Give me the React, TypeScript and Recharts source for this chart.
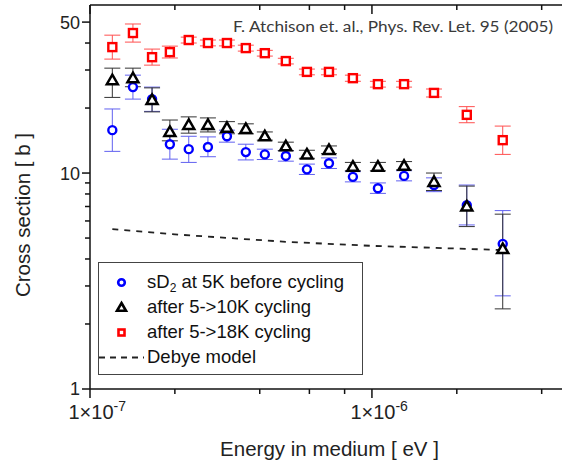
import React from 'react';
import { ComposedChart, Scatter, Line, XAxis, YAxis, ErrorBar, Legend, Label } from 'recharts';

// ---- data ----
const energies = [1.2e-7, 1.42e-7, 1.66e-7, 1.92e-7, 2.24e-7, 2.62e-7, 3.06e-7, 3.57e-7, 4.17e-7, 4.95e-7, 5.88e-7, 7.04e-7, 8.56e-7, 1.05e-6, 1.3e-6, 1.66e-6, 2.17e-6, 2.91e-6];

const sigmaBefore = [15.8, 25.0, 22.0, 13.6, 12.9, 13.2, 14.8, 12.5, 12.2, 12.0, 10.4, 11.1, 9.6, 8.5, 9.7, 8.8, 7.1, 4.7];
const errBeforeLow = [3.2, 3.0, 2.7, 2.0, 1.7, 1.3, 0.9, 1.0, 0.65, 0.65, 0.55, 0.6, 0.5, 0.45, 0.5, 0.6, 1.35, 2.0];
const errBeforeHigh = [4.0, 3.4, 3.0, 2.35, 1.9, 1.5, 1.0, 1.1, 0.7, 0.7, 0.6, 0.65, 0.55, 0.5, 0.55, 0.7, 1.7, 2.0];

const sigma10K = [26.9, 27.5, 21.8, 15.5, 16.7, 16.7, 16.2, 16.0, 14.8, 13.3, 12.2, 12.8, 10.7, 10.7, 10.8, 9.1, 7.0, 4.45];
const err10KLow = [4.5, 2.4, 2.6, 1.4, 1.4, 1.2, 1.0, 0.8, 0.6, 0.6, 0.5, 0.5, 0.45, 0.45, 0.45, 0.8, 1.35, 2.1];
const err10KHigh = [3.7, 3.1, 3.0, 2.1, 1.5, 1.3, 1.1, 0.9, 0.7, 0.6, 0.55, 0.55, 0.5, 0.5, 0.5, 0.9, 1.7, 2.0];

const sigma18K = [38.3, 44.5, 34.4, 36.3, 41.3, 40.0, 40.0, 37.9, 35.9, 33.0, 29.4, 29.4, 27.5, 25.8, 25.8, 23.5, 18.6, 14.2];
const err18KLow = [4.6, 4.1, 2.8, 2.2, 1.3, 1.2, 1.2, 1.2, 1.1, 1.0, 0.9, 0.9, 0.9, 0.8, 0.8, 1.0, 1.5, 2.0];
const err18KHigh = [5.2, 4.5, 3.1, 2.4, 1.3, 1.3, 1.3, 1.2, 1.1, 1.0, 0.9, 0.9, 0.9, 0.8, 0.8, 1.0, 1.7, 2.3];

const debyeEnergy = [1.2e-7, 2e-7, 3.5e-7, 5e-7, 1e-6, 2e-6, 2.9e-6];
const debyeSigma = [5.5, 5.2, 4.95, 4.8, 4.6, 4.47, 4.4];

const xTicks = [1e-7, 2e-7, 4e-7, 6e-7, 8e-7, 1e-6, 2e-6, 4e-6];
const xLabelTicks = [1e-7, 1e-6];
const xLabelExponents = ['-7', '-6'];
const yTicks = [1, 2, 3, 4, 5, 6, 7, 8, 9, 10, 20, 30, 40, 50];
const yLabelTicks = [1, 10, 50];

const seriesNames = ['sD2 at 5K before cycling', 'after 5->10K cycling', 'after 5->18K cycling', 'Debye model'];
const annotation = 'F. Atchison et. al., Phys. Rev. Let. 95 (2005)';
const xTitle = 'Energy in medium [ eV ]';
const yTitle = 'Cross section [ b ]';

// ---- build tables ----
const mk = (ys: number[], lo: number[], hi: number[]) =>
  energies.map((x, i) => ({ x, y: ys[i], err: [lo[i], hi[i]] }));
const dataBefore = mk(sigmaBefore, errBeforeLow, errBeforeHigh);
const data10K = mk(sigma10K, err10KLow, err10KHigh);
const data18K = mk(sigma18K, err18KLow, err18KHigh);
const debyeData = debyeEnergy.map((x, i) => ({ x, y: debyeSigma[i] }));

const FONT = '"Liberation Sans", Arial, Helvetica, sans-serif';
const AXIS = '#111';
const BLUE = '#0000ff';
const RED = '#ff0000';

// ---- shapes ----
const CircleShape = (p: any) => (
  <circle cx={p.cx} cy={p.cy} r={4} fill="#fff" stroke={BLUE} strokeWidth={2.4} />
);
const TriangleShape = (p: any) => (
  <path
    d={`M${p.cx},${p.cy - 5.5}L${p.cx + 5.5},${p.cy + 4}L${p.cx - 5.5},${p.cy + 4}Z`}
    fill="#fff"
    stroke="#000"
    strokeWidth={2.5}
  />
);
const SquareShape = (p: any) => (
  <rect x={p.cx - 4} y={p.cy - 4} width={8} height={8} fill="#fff" stroke={RED} strokeWidth={2.4} />
);

// ---- ticks ----
const renderYTick = (props: any) => {
  const { x, y, payload } = props;
  const v = payload.value;
  const major = yLabelTicks.includes(v);
  const len = major ? 8 : 5;
  return (
    <g>
      <line x1={x} x2={x - len} y1={y} y2={y} stroke={AXIS} strokeWidth={1.5} />
      {major && (
        <text x={x - len - 2} y={y} dy="0.36em" textAnchor="end" fontSize={18} fontFamily={FONT} fill="#222">
          {v}
        </text>
      )}
    </g>
  );
};

const renderXTickBottom = (props: any) => {
  const { x, y, payload } = props;
  const idx = xLabelTicks.indexOf(payload.value);
  const len = idx >= 0 ? 9 : 5;
  return (
    <g>
      <line x1={x} x2={x} y1={y} y2={y + len} stroke={AXIS} strokeWidth={1.5} />
      {idx >= 0 && (
        <g fontFamily={FONT} fill="#222">
          <text x={x + 1} y={y + 30} textAnchor="middle" fontSize={20}>
            1×10
          </text>
          <text x={x + 23.5} y={y + 22} textAnchor="start" fontSize={14}>
            {xLabelExponents[idx]}
          </text>
        </g>
      )}
    </g>
  );
};

const renderXTickTop = (props: any) => {
  const { x, y, payload } = props;
  const major = xLabelTicks.includes(payload.value);
  const len = major ? 9 : 5;
  return <line x1={x} x2={x} y1={y} y2={y + len} stroke={AXIS} strokeWidth={1.5} />;
};

// ---- axis titles ----
const renderYTitle = (props: any) => {
  const vb = props.viewBox || { x: 0, y: 5, width: 90, height: 384 };
  const cx = vb.x + 30;
  const cy = vb.y + vb.height / 2 + 18;
  return (
    <text transform={`translate(${cx},${cy}) rotate(-90)`} x={0} y={0} textAnchor="middle" fontSize={20.5} fontFamily={FONT} fill="#222">
      {yTitle}
    </text>
  );
};

const renderXTitle = (props: any) => {
  const vb = props.viewBox || { x: 90, y: 389, width: 479, height: 72 };
  return (
    <text x={vb.x + vb.width / 2} y={vb.y + 67} textAnchor="middle" fontSize={20.5} fontFamily={FONT} fill="#222">
      {xTitle}
    </text>
  );
};

// ---- legend ----
const legendIcon = (i: number) => {
  const cx = 22.5;
  const cy = 12.5;
  if (i === 0) return <circle cx={cx} cy={cy} r={3.3} fill="#fff" stroke={BLUE} strokeWidth={2.6} />;
  if (i === 1)
    return (
      <path d={`M${cx},${cy - 4.5}L${cx + 4.5},${cy + 3.3}L${cx - 4.5},${cy + 3.3}Z`} fill="#fff" stroke="#000" strokeWidth={2.6} />
    );
  if (i === 2) return <rect x={cx - 3} y={cy - 3} width={6} height={6} fill="#fff" stroke={RED} strokeWidth={2.6} />;
  return <line x1={0} x2={45} y1={cy} y2={cy} stroke="#222" strokeWidth={1.8} strokeDasharray="6 5" />;
};

const renderLegendLabel = (name: string) => {
  if (name.startsWith('sD2')) {
    return (
      <span>
        sD<sub style={{ fontSize: 12, verticalAlign: -4, lineHeight: 0 }}>2</sub>
        {name.slice(3)}
      </span>
    );
  }
  return <span>{name}</span>;
};

const renderLegend = () => (
  <div
    style={{
      boxSizing: 'border-box',
      width: 265,
      height: 113,
      border: '1.5px solid #444',
      background: '#fff',
      paddingTop: 6.5,
      fontFamily: FONT,
      fontSize: 18.5,
      color: '#111',
    }}
  >
    {seriesNames.map((n, i) => (
      <div key={n} style={{ display: 'flex', alignItems: 'center', height: 25, whiteSpace: 'nowrap' }}>
        <svg width={48} height={25} style={{ flex: 'none' }}>
          {legendIcon(i)}
        </svg>
        {renderLegendLabel(n)}
      </div>
    ))}
  </div>
);

export default function App() {
  return (
    <div style={{ position: 'fixed', left: 0, top: 0, width: 562, height: 461, overflow: 'hidden', background: '#fff' }}>
      <ComposedChart width={600} height={461} margin={{ top: 0, right: 31, bottom: 0, left: 0 }}>
        <XAxis
          dataKey="x"
          type="number"
          scale="log"
          domain={[1e-7, 5e-6]}
          allowDataOverflow
          ticks={xTicks}
          interval={0}
          tick={renderXTickBottom}
          tickLine={false}
          tickSize={0}
          tickMargin={0}
          height={72}
          axisLine={{ stroke: AXIS, strokeWidth: 1.5 }}
          label={<Label content={renderXTitle} />}
        />
        <XAxis
          xAxisId="top"
          orientation="top"
          dataKey="x"
          type="number"
          scale="log"
          domain={[1e-7, 5e-6]}
          allowDataOverflow
          ticks={xTicks}
          interval={0}
          tick={renderXTickTop}
          tickLine={false}
          tickSize={0}
          tickMargin={0}
          height={5}
          axisLine={{ stroke: AXIS, strokeWidth: 1.5 }}
        />
        <YAxis
          dataKey="y"
          type="number"
          scale="log"
          domain={[1, 60]}
          allowDataOverflow
          ticks={yTicks}
          interval={0}
          tick={renderYTick}
          tickLine={false}
          tickSize={0}
          tickMargin={0}
          width={90}
          axisLine={{ stroke: AXIS, strokeWidth: 1.5 }}
          label={<Label content={renderYTitle} />}
        />
        <Line
          data={debyeData}
          dataKey="y"
          name={seriesNames[3]}
          type="linear"
          stroke="#222"
          strokeWidth={1.8}
          strokeDasharray="6 6"
          dot={false}
          activeDot={false}
          isAnimationActive={false}
        />
        <Scatter data={data18K} dataKey="y" name={seriesNames[2]} shape={SquareShape} isAnimationActive={false}>
          <ErrorBar dataKey="err" direction="y" width={8} stroke="#ff5050" strokeWidth={1} />
        </Scatter>
        <Scatter data={dataBefore} dataKey="y" name={seriesNames[0]} shape={CircleShape} isAnimationActive={false}>
          <ErrorBar dataKey="err" direction="y" width={8} stroke="#6060f0" strokeWidth={1} />
        </Scatter>
        <Scatter data={data10K} dataKey="y" name={seriesNames[1]} shape={TriangleShape} isAnimationActive={false}>
          <ErrorBar dataKey="err" direction="y" width={8} stroke="#333" strokeWidth={1} />
        </Scatter>
        <Legend
          layout="horizontal"
          verticalAlign="middle"
          align="center"
          wrapperStyle={{ left: 98, top: 262, width: 265, height: 113 }}
          content={renderLegend}
        />
      </ComposedChart>
      <svg width={562} height={461} style={{ position: 'absolute', left: 0, top: 0, pointerEvents: 'none' }}>
        <text x={553} y={32} textAnchor="end" fontFamily='Lato, "Open Sans", sans-serif' fontSize={15.5} fill="#3a3a3a" textLength={320} lengthAdjust="spacingAndGlyphs">
          {annotation}
        </text>
      </svg>
    </div>
  );
}
